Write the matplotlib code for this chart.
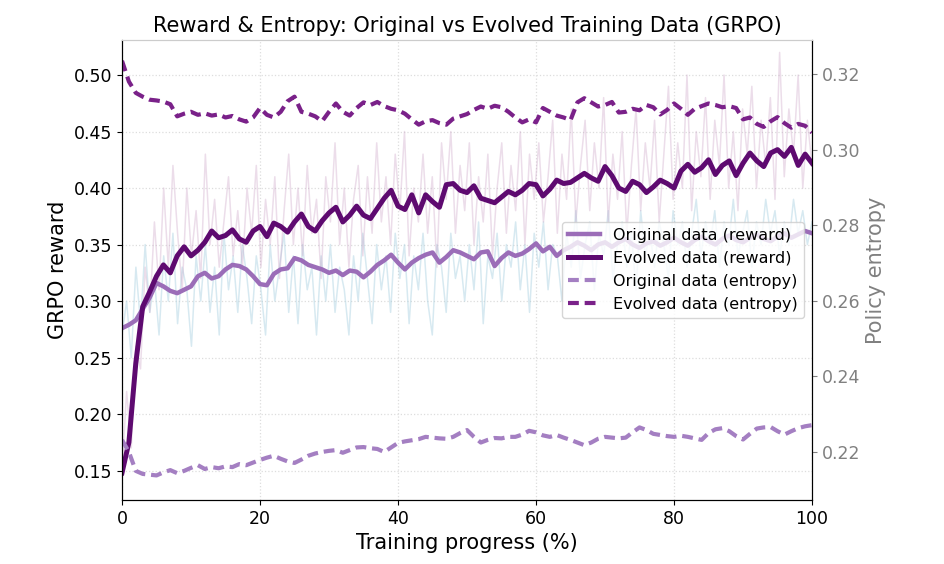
import numpy as np
import matplotlib
matplotlib.use('Agg')
import matplotlib.pyplot as plt

# %%
# smoothed curves, one value per 1 % of training progress
progress = np.arange(0, 101)

evolved_reward = [
    0.148, 0.175, 0.245, 0.295, 0.308, 0.322, 0.332, 0.325, 0.340, 0.348,
    0.340, 0.345, 0.352, 0.362, 0.356, 0.358, 0.363, 0.355, 0.352, 0.362,
    0.366, 0.357, 0.369, 0.366, 0.361, 0.370, 0.377, 0.366, 0.362, 0.371,
    0.378, 0.383, 0.370, 0.376, 0.384, 0.376, 0.373, 0.382, 0.391, 0.398,
    0.384, 0.381, 0.394, 0.378, 0.394, 0.388, 0.383, 0.403, 0.404, 0.398,
    0.396, 0.402, 0.391, 0.389, 0.387, 0.392, 0.397, 0.394, 0.398, 0.404,
    0.403, 0.393, 0.399, 0.407, 0.404, 0.405, 0.409, 0.413, 0.409, 0.406,
    0.419, 0.411, 0.400, 0.397, 0.406, 0.403, 0.396, 0.401, 0.407, 0.404,
    0.400, 0.415, 0.421, 0.414, 0.418, 0.425, 0.412, 0.420, 0.424, 0.411,
    0.422, 0.431, 0.424, 0.419, 0.431, 0.434, 0.428, 0.436, 0.420, 0.430,
    0.422]

original_reward = [
    0.276, 0.279, 0.283, 0.293, 0.303, 0.316, 0.313, 0.309, 0.307, 0.310,
    0.313, 0.322, 0.325, 0.320, 0.322, 0.328, 0.332, 0.331, 0.328, 0.322,
    0.315, 0.314, 0.324, 0.328, 0.329, 0.338, 0.336, 0.332, 0.330, 0.328,
    0.325, 0.327, 0.323, 0.327, 0.326, 0.321, 0.326, 0.332, 0.336, 0.341,
    0.334, 0.328, 0.334, 0.338, 0.341, 0.343, 0.334, 0.339, 0.345, 0.343,
    0.340, 0.337, 0.343, 0.344, 0.331, 0.338, 0.343, 0.340, 0.342, 0.346,
    0.351, 0.344, 0.348, 0.340, 0.345, 0.348, 0.352, 0.349, 0.345, 0.350,
    0.352, 0.348, 0.352, 0.355, 0.350, 0.347, 0.351, 0.353, 0.349, 0.352,
    0.356, 0.352, 0.349, 0.354, 0.357, 0.353, 0.350, 0.355, 0.358, 0.354,
    0.352, 0.356, 0.359, 0.355, 0.353, 0.357, 0.360, 0.356, 0.359, 0.362,
    0.360]

evolved_entropy = [
    0.3235, 0.3180, 0.3150, 0.3140, 0.3132, 0.3130, 0.3127, 0.3120, 0.3088, 0.3095,
    0.3100, 0.3092, 0.3096, 0.3090, 0.3093, 0.3085, 0.3089, 0.3080, 0.3074, 0.3085,
    0.3110, 0.3092, 0.3085, 0.3100, 0.3128, 0.3140, 0.3100, 0.3095, 0.3088, 0.3075,
    0.3100, 0.3122, 0.3100, 0.3090, 0.3110, 0.3125, 0.3118, 0.3126, 0.3115, 0.3108,
    0.3104, 0.3095, 0.3080, 0.3066, 0.3075, 0.3078, 0.3070, 0.3066, 0.3082, 0.3088,
    0.3094, 0.3105, 0.3114, 0.3108, 0.3116, 0.3112, 0.3100, 0.3085, 0.3072, 0.3080,
    0.3072, 0.3110, 0.3100, 0.3090, 0.3085, 0.3078, 0.3125, 0.3136, 0.3125, 0.3114,
    0.3118, 0.3126, 0.3098, 0.3100, 0.3108, 0.3104, 0.3118, 0.3112, 0.3093, 0.3105,
    0.3122, 0.3108, 0.3092, 0.3108, 0.3115, 0.3122, 0.3118, 0.3112, 0.3115, 0.3110,
    0.3080, 0.3085, 0.3068, 0.3060, 0.3075, 0.3086, 0.3070, 0.3058, 0.3068, 0.3063,
    0.3045]

original_entropy = [
    0.2232, 0.2200, 0.2150, 0.2142, 0.2140, 0.2138, 0.2146, 0.2152, 0.2144, 0.2150,
    0.2158, 0.2165, 0.2155, 0.2160, 0.2157, 0.2162, 0.2160, 0.2168, 0.2165, 0.2172,
    0.2179, 0.2185, 0.2190, 0.2182, 0.2175, 0.2171, 0.2180, 0.2190, 0.2196, 0.2200,
    0.2203, 0.2205, 0.2198, 0.2205, 0.2212, 0.2213, 0.2210, 0.2208, 0.2200, 0.2212,
    0.2224, 0.2228, 0.2231, 0.2234, 0.2240, 0.2238, 0.2236, 0.2235, 0.2240, 0.2250,
    0.2258, 0.2240, 0.2225, 0.2232, 0.2237, 0.2236, 0.2240, 0.2240, 0.2246, 0.2256,
    0.2252, 0.2244, 0.2240, 0.2245, 0.2238, 0.2232, 0.2225, 0.2218, 0.2225, 0.2235,
    0.2240, 0.2238, 0.2236, 0.2238, 0.2252, 0.2265, 0.2258, 0.2248, 0.2245, 0.2242,
    0.2240, 0.2243, 0.2240, 0.2236, 0.2232, 0.2250, 0.2260, 0.2263, 0.2255, 0.2242,
    0.2233, 0.2248, 0.2262, 0.2265, 0.2266, 0.2255, 0.2246, 0.2255, 0.2263, 0.2268,
    0.2271]

# raw (unsmoothed) reward per logging step
raw_evolved_reward = [
    0.15, 0.22, 0.17, 0.26, 0.24, 0.33, 0.29, 0.37, 0.31, 0.40,
    0.33, 0.42, 0.36, 0.31, 0.40, 0.34, 0.38, 0.32, 0.43, 0.35,
    0.39, 0.33, 0.37, 0.41, 0.34, 0.38, 0.33, 0.40, 0.36, 0.42,
    0.33, 0.39, 0.35, 0.41, 0.32, 0.38, 0.43, 0.35, 0.40, 0.34,
    0.42, 0.36, 0.39, 0.32, 0.41, 0.37, 0.44, 0.35, 0.40, 0.33,
    0.39, 0.42, 0.34, 0.41, 0.36, 0.44, 0.37, 0.41, 0.35, 0.43,
    0.38, 0.45, 0.34, 0.40, 0.37, 0.43, 0.36, 0.41, 0.33, 0.44,
    0.39, 0.45, 0.36, 0.42, 0.38, 0.44, 0.35, 0.41, 0.37, 0.43,
    0.34, 0.40, 0.44, 0.36, 0.42, 0.38, 0.45, 0.35, 0.43, 0.39,
    0.44, 0.37, 0.41, 0.46, 0.36, 0.43, 0.39, 0.47, 0.37, 0.42,
    0.46, 0.38, 0.44, 0.40, 0.48, 0.37, 0.43, 0.39, 0.45, 0.36,
    0.42, 0.47, 0.38, 0.44, 0.40, 0.46, 0.37, 0.43, 0.49, 0.39,
    0.44, 0.40, 0.50, 0.38, 0.45, 0.41, 0.48, 0.39, 0.46, 0.42,
    0.50, 0.40, 0.45, 0.38, 0.47, 0.43, 0.49, 0.40, 0.46, 0.42,
    0.48, 0.39, 0.52, 0.41, 0.47, 0.43, 0.50, 0.40, 0.46, 0.42]

raw_original_reward = [
    0.27, 0.30, 0.25, 0.33, 0.28, 0.35, 0.29, 0.32, 0.27, 0.34,
    0.30, 0.36, 0.28, 0.33, 0.31, 0.26, 0.34, 0.30, 0.35, 0.29,
    0.33, 0.27, 0.36, 0.31, 0.34, 0.29, 0.35, 0.32, 0.28, 0.34,
    0.31, 0.27, 0.35, 0.30, 0.33, 0.36, 0.29, 0.34, 0.28, 0.35,
    0.31, 0.33, 0.27, 0.34, 0.30, 0.35, 0.29, 0.33, 0.31, 0.27,
    0.34, 0.30, 0.36, 0.32, 0.28, 0.35, 0.31, 0.34, 0.29, 0.36,
    0.32, 0.35, 0.28, 0.34, 0.31, 0.36, 0.30, 0.27, 0.35, 0.33,
    0.29, 0.36, 0.32, 0.34, 0.30, 0.35, 0.31, 0.37, 0.28, 0.34,
    0.32, 0.36, 0.30, 0.35, 0.33, 0.37, 0.31, 0.35, 0.29, 0.36,
    0.33, 0.37, 0.31, 0.35, 0.34, 0.30, 0.36, 0.33, 0.38, 0.32,
    0.35, 0.37, 0.31, 0.36, 0.34, 0.38, 0.32, 0.35, 0.37, 0.33,
    0.36, 0.31, 0.38, 0.34, 0.36, 0.33, 0.37, 0.35, 0.32, 0.38,
    0.35, 0.37, 0.33, 0.36, 0.39, 0.34, 0.37, 0.35, 0.38, 0.33,
    0.37, 0.35, 0.39, 0.34, 0.36, 0.38, 0.33, 0.37, 0.35, 0.39,
    0.36, 0.38, 0.34, 0.37, 0.35, 0.39, 0.36, 0.38, 0.35, 0.37]

# %%
c_orig = '#9b6db8'
c_evol = '#5e0a70'
c_orig_ent = '#a47fc2'
c_evol_ent = '#7a2189'

fig = plt.figure(figsize=(9.45, 5.64), dpi=100)
ax1 = fig.add_axes([0.1291, 0.1135, 0.7302, 0.8156])
ax2 = ax1.twinx()

raw_x_e = np.linspace(0, 100, len(raw_evolved_reward))
raw_x_o = np.linspace(0, 100, len(raw_original_reward))
ax1.plot(raw_x_o, raw_original_reward, color='#a8d0e0', lw=1.1, alpha=0.45)
ax1.plot(raw_x_e, raw_evolved_reward, color='#c9a0c4', lw=1.1, alpha=0.35)

l1, = ax1.plot(progress, original_reward, color=c_orig, lw=3.2,
               label='Original data (reward)')
l2, = ax1.plot(progress, evolved_reward, color=c_evol, lw=3.6,
               label='Evolved data (reward)')
l3, = ax2.plot(progress, original_entropy, color=c_orig_ent, lw=3.0,
               ls=(0, (2.6, 1.4)), label='Original data (entropy)')
l4, = ax2.plot(progress, evolved_entropy, color=c_evol_ent, lw=3.0,
               ls=(0, (2.6, 1.4)), label='Evolved data (entropy)')

ax1.set_xlim(0, 100)
ax1.set_ylim(0.124, 0.531)
ax2.set_ylim(0.2073, 0.329)
ax1.set_xticks([0, 20, 40, 60, 80, 100])
ax1.set_yticks([0.15, 0.20, 0.25, 0.30, 0.35, 0.40, 0.45, 0.50])
ax2.set_yticks([0.22, 0.24, 0.26, 0.28, 0.30, 0.32])

ax1.grid(True, linestyle=':', color='#dddddd', lw=0.9)
ax1.tick_params(axis='both', labelsize=12.5)
ax2.tick_params(axis='y', labelsize=12.5, colors='gray')
ax2.spines['right'].set_color('black')
ax2.spines['top'].set_color('#cccccc')
ax1.spines['top'].set_color('#cccccc')

ax1.set_xlabel('Training progress (%)', fontsize=15)
ax1.set_ylabel('GRPO reward', fontsize=15)
ax2.set_ylabel('Policy entropy', fontsize=15, color='gray')
ax1.set_title('Reward & Entropy: Original vs Evolved Training Data (GRPO)',
              fontsize=15)

ax2.legend([l1, l2, l3, l4], [l.get_label() for l in [l1, l2, l3, l4]],
           loc='center right', fontsize=11.5)

fig.savefig('out.png', dpi=100)
plt.close()
